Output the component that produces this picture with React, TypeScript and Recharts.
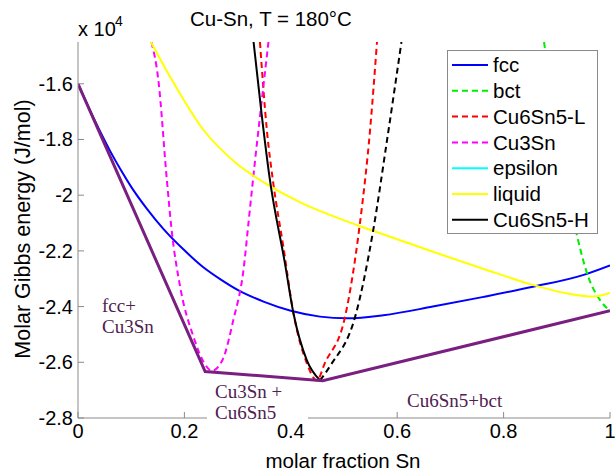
import React from 'react';
import { LineChart, Line, XAxis, YAxis } from 'recharts';

// ---- data (x = molar fraction Sn, y = molar Gibbs energy J/mol) ----
const xTicks = [0, 0.2, 0.4, 0.6, 0.8, 1];
const yTicks = [-28000, -26000, -24000, -22000, -20000, -18000, -16000];
const yDomain = [-28000, -14500];

const fccPts = [[0, -16000], [0.02, -16850], [0.04, -17650], [0.06, -18400], [0.08, -19080], [0.1, -19700], [0.13, -20500], [0.16, -21200], [0.2, -21980], [0.235, -22580], [0.27, -23050], [0.3, -23400], [0.35, -23830], [0.4, -24150], [0.455, -24360], [0.505, -24420], [0.574, -24310], [0.667, -24000], [0.76, -23660], [0.855, -23290], [0.949, -22870], [1, -22520]];
const bctPts = [[0.876, -14500], [0.905, -18200], [0.937, -21370], [0.959, -22925], [0.981, -23760], [1, -24150]];
const cu6sn5LPts = [[0.342, -14500], [0.355, -17660], [0.367, -19560], [0.386, -21850], [0.405, -24240], [0.43, -26030], [0.449, -26650], [0.464, -26030], [0.502, -24360], [0.53, -21000], [0.549, -17660], [0.562, -14500]];
const cu3snPts = [[0.138, -14500], [0.151, -15860], [0.167, -19450], [0.176, -21250], [0.192, -23290], [0.217, -25080], [0.235, -25950], [0.252, -26300], [0.272, -25900], [0.292, -24480], [0.311, -22690], [0.321, -20890], [0.332, -18900], [0.342, -17180], [0.358, -14500]];
const epsilonPts: number[][] = [];
const liquidPts = [[0.137, -14500], [0.173, -15745], [0.236, -17660], [0.298, -18860], [0.35, -19550], [0.417, -20250], [0.524, -21070], [0.6, -21580], [0.667, -22030], [0.76, -22630], [0.855, -23220], [0.92, -23530], [0.968, -23640], [1, -23510]];
const cu6sn5HPts = [[0.330, -14500], [0.345, -17060], [0.36, -19350], [0.389, -22450], [0.405, -24240], [0.43, -25920], [0.455, -26650]];
const cu6sn5HDashPts = [[0.455, -26650], [0.475, -26100], [0.521, -24360], [0.555, -21250], [0.58, -18140], [0.608, -14500]];
const hullPts = [[0, -16000], [0.239, -26330], [0.46, -26660], [1, -24150]];

const toRows = (pts: number[][]) => pts.map(([x, y]) => ({ x, y }));

const series = [
  { name: 'fcc', pts: fccPts, color: '#0000ff', dash: undefined as string | undefined, legend: true },
  { name: 'bct', pts: bctPts, color: '#00ee00', dash: '6 4', legend: true },
  { name: 'Cu6Sn5-L', pts: cu6sn5LPts, color: '#ff0000', dash: '6 4', legend: true },
  { name: 'Cu3Sn', pts: cu3snPts, color: '#ff00ff', dash: '6 4', legend: true },
  { name: 'epsilon', pts: epsilonPts, color: '#00ffff', dash: undefined, legend: true },
  { name: 'liquid', pts: liquidPts, color: '#ffff00', dash: undefined, legend: true },
  { name: 'Cu6Sn5-H', pts: cu6sn5HPts, color: '#000000', dash: undefined, legend: true },
  { name: 'Cu6Sn5-H (dashed)', pts: cu6sn5HDashPts, color: '#000000', dash: '6 4', legend: false },
];

const AXIS = '#8a8a8a';
const SANS = '"Liberation Sans", Arial, sans-serif';
const SERIF = '"Liberation Serif", "Times New Roman", serif';
const ANNO = '#4f2151';
const TICK_FS = 20;

const fmtY = (v: number) => String(v / 10000);

const BottomTick = (p: any) => (
  <g>
    <line x1={p.x} y1={p.y} x2={p.x} y2={p.y - 6} stroke={AXIS} />
    <text x={p.x} y={p.y + 20} textAnchor="middle" fontSize={TICK_FS} fontFamily={SANS} fill="#000">{p.payload.value}</text>
  </g>
);
const TopTick = (p: any) => <line x1={p.x} y1={p.y} x2={p.x} y2={p.y + 6} stroke={AXIS} />;
const LeftTick = (p: any) => (
  <g>
    <line x1={p.x} y1={p.y} x2={p.x + 6} y2={p.y} stroke={AXIS} />
    <text x={p.x - 5} y={p.y} dy="0.35em" textAnchor="end" fontSize={TICK_FS} fontFamily={SANS} fill="#000">{fmtY(p.payload.value)}</text>
  </g>
);
const RightTick = (p: any) => <line x1={p.x} y1={p.y} x2={p.x - 6} y2={p.y} stroke={AXIS} />;

export default function App() {
  const legendItems = series.filter((s) => s.legend);
  return (
    <div style={{ position: 'absolute', left: 0, top: 0, width: 615, height: 473, background: '#fff' }}>
      <LineChart width={615} height={473} margin={{ top: 42, right: 5, bottom: 0, left: 0 }}>
        <XAxis xAxisId="b" type="number" dataKey="x" domain={[0, 1]} ticks={xTicks} interval={0}
          orientation="bottom" height={55} tickSize={0} tickMargin={0} tickLine={false}
          axisLine={{ stroke: AXIS }} tick={BottomTick} allowDataOverflow />
        <XAxis xAxisId="t" type="number" dataKey="x" domain={[0, 1]} ticks={xTicks} interval={0}
          orientation="top" height={0} tickSize={0} tickMargin={0} tickLine={false}
          axisLine={{ stroke: AXIS }} tick={TopTick} allowDataOverflow />
        <YAxis yAxisId="l" type="number" domain={yDomain} ticks={yTicks} interval={0}
          orientation="left" width={78} tickSize={0} tickMargin={0} tickLine={false}
          axisLine={{ stroke: AXIS }} tick={LeftTick} allowDataOverflow />
        <YAxis yAxisId="r" type="number" domain={yDomain} ticks={yTicks} interval={0}
          orientation="right" width={0} tickSize={0} tickMargin={0} tickLine={false}
          axisLine={{ stroke: AXIS }} tick={RightTick} allowDataOverflow />
        {series.map((s) => (
          <Line key={s.name} xAxisId="b" yAxisId="l" data={toRows(s.pts)} dataKey="y" name={s.name}
            type="monotone" stroke={s.color} strokeWidth={2} strokeDasharray={s.dash}
            dot={false} activeDot={false} isAnimationActive={false} />
        ))}
        <Line xAxisId="b" yAxisId="l" data={toRows(hullPts)} dataKey="y" name="common tangent"
          type="linear" stroke="#7a1f80" strokeWidth={3} dot={false} activeDot={false} isAnimationActive={false} />
      </LineChart>
      <svg width={615} height={473} style={{ position: 'absolute', left: 0, top: 0, pointerEvents: 'none' }}>
        <text x={190} y={26} fontSize={20.5} fontFamily={SANS} fill="#000">Cu-Sn, T = 180°C</text>
        <text x={78} y={36} fontSize={20} fontFamily={SANS} fill="#000">x 10</text>
        <text x={115} y={26} fontSize={14} fontFamily={SANS} fill="#000">4</text>
        <text x={343} y={468} textAnchor="middle" fontSize={20.5} fontFamily={SANS} fill="#000">molar fraction Sn</text>
        <text x={0} y={0} transform="translate(30,229) rotate(-90)" textAnchor="middle" fontSize={21.5} fontFamily={SANS} fill="#000">Molar Gibbs energy (J/mol)</text>

        <text x={102} y={312} fontSize={19} fontFamily={SERIF} fill={ANNO}>fcc+</text>
        <text x={102} y={333} fontSize={19} fontFamily={SERIF} fill={ANNO}>Cu3Sn</text>
        <rect x={207} y={384} width={101} height={37} fill="#fff" />
        <text x={215} y={398} fontSize={19} fontFamily={SERIF} fill={ANNO}>Cu3Sn +</text>
        <text x={215} y={419} fontSize={19} fontFamily={SERIF} fill={ANNO}>Cu6Sn5</text>
        <text x={407} y={407} fontSize={19} fontFamily={SERIF} fill={ANNO}>Cu6Sn5+bct</text>

        <rect x={447.5} y={50.5} width={150} height={183} fill="#fff" stroke={AXIS} strokeWidth={1} />
        {legendItems.map((s, i) => {
          const cy = 65 + i * 25.8;
          return (
            <g key={s.name}>
              <line x1={452} y1={cy} x2={488} y2={cy} stroke={s.color} strokeWidth={2} strokeDasharray={s.dash} />
              <text x={493} y={cy} dy="0.35em" fontSize={20.5} fontFamily={SANS} fill="#000">{s.name}</text>
            </g>
          );
        })}
      </svg>
    </div>
  );
}
